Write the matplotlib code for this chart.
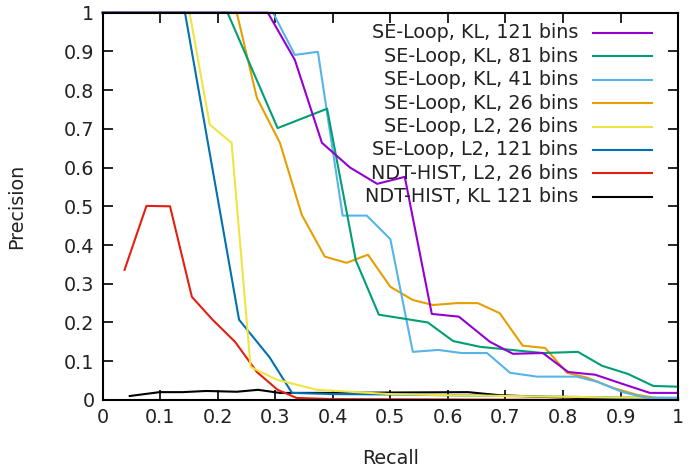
import matplotlib
matplotlib.use("Agg")
import matplotlib.pyplot as plt

# precision/recall curves
kl121_x = [0.0, 0.287, 0.334, 0.381, 0.43, 0.477, 0.525, 0.572, 0.619, 0.673, 0.713, 0.765, 0.809, 0.856, 0.908, 0.951, 1.0]
kl121_y = [1.0, 1.0, 0.878, 0.664, 0.6, 0.558, 0.576, 0.222, 0.215, 0.15, 0.119, 0.121, 0.072, 0.065, 0.039, 0.018, 0.018]

kl81_x = [0.0, 0.217, 0.304, 0.39, 0.44, 0.48, 0.565, 0.609, 0.656, 0.765, 0.826, 0.868, 0.913, 0.957, 1.0]
kl81_y = [1.0, 1.0, 0.702, 0.752, 0.36, 0.22, 0.2, 0.152, 0.137, 0.121, 0.124, 0.088, 0.067, 0.036, 0.034]

kl41_x = [0.0, 0.296, 0.334, 0.374, 0.417, 0.459, 0.5, 0.539, 0.583, 0.624, 0.668, 0.708, 0.755, 0.824, 0.859, 0.904, 0.946, 1.0]
kl41_y = [1.0, 1.0, 0.891, 0.899, 0.476, 0.476, 0.415, 0.124, 0.129, 0.121, 0.121, 0.07, 0.06, 0.06, 0.047, 0.02, 0.005, 0.005]

kl26_x = [0.0, 0.233, 0.268, 0.308, 0.346, 0.386, 0.424, 0.461, 0.5, 0.539, 0.574, 0.616, 0.652, 0.69, 0.73, 0.769, 0.807, 0.843, 0.887, 0.929, 0.969, 1.0]
kl26_y = [1.0, 1.0, 0.78, 0.664, 0.478, 0.37, 0.354, 0.375, 0.292, 0.258, 0.245, 0.25, 0.25, 0.224, 0.14, 0.134, 0.07, 0.057, 0.031, 0.013, 0.003, 0.0]

l2_26_x = [0.03, 0.151, 0.186, 0.224, 0.257, 0.303, 0.372, 0.44, 0.5, 0.6, 0.7, 0.8, 0.9, 1.0]
l2_26_y = [1.0, 1.0, 0.711, 0.664, 0.085, 0.052, 0.026, 0.02, 0.015, 0.012, 0.01, 0.008, 0.006, 0.005]

l2_121_x = [0.0, 0.143, 0.237, 0.29, 0.329, 0.4, 0.5, 0.6, 0.7, 0.8, 0.9, 1.0]
l2_121_y = [1.0, 1.0, 0.207, 0.11, 0.018, 0.015, 0.014, 0.012, 0.01, 0.008, 0.006, 0.005]

ndt_l2_x = [0.038, 0.076, 0.117, 0.155, 0.191, 0.23, 0.268, 0.304, 0.337, 0.4, 0.6, 0.8, 1.0]
ndt_l2_y = [0.336, 0.501, 0.5, 0.266, 0.207, 0.15, 0.072, 0.026, 0.005, 0.002, 0.001, 0.0, 0.0]

ndt_kl_x = [0.047, 0.099, 0.139, 0.18, 0.233, 0.27, 0.308, 0.4, 0.5, 0.635, 0.69, 0.8, 0.9, 1.0]
ndt_kl_y = [0.01, 0.02, 0.02, 0.023, 0.021, 0.026, 0.018, 0.018, 0.019, 0.02, 0.012, 0.006, 0.002, 0.0]

labels = ["SE-Loop, KL, 121 bins", "SE-Loop, KL, 81 bins", "SE-Loop, KL, 41 bins",
          "SE-Loop, KL, 26 bins", "SE-Loop, L2, 26 bins", "SE-Loop, L2, 121 bins",
          "NDT-HIST, L2, 26 bins", "NDT-HIST, KL 121 bins"]
colors = ["#9400d3", "#009e73", "#56b4e9", "#e69f00", "#f0e442", "#0072b2", "#e51e10", "#000000"]
series = [(kl121_x, kl121_y), (kl81_x, kl81_y), (kl41_x, kl41_y), (kl26_x, kl26_y),
          (l2_26_x, l2_26_y), (l2_121_x, l2_121_y), (ndt_l2_x, ndt_l2_y), (ndt_kl_x, ndt_kl_y)]

fs = 13.8
txt = "#222222"

fig = plt.figure(figsize=(6.94, 4.71), dpi=100)
ax = fig.add_axes([0.148, 0.151, 0.829, 0.822])

# draw in reverse so the first series is on top, like gnuplot
for (xs, ys), c in reversed(list(zip(series, colors))):
    ax.plot(xs, ys, color=c, lw=1.5, clip_on=False, zorder=3)

ax.set_xlim(0, 1)
ax.set_ylim(0, 1)
ticks = [i / 10 for i in range(11)]
ticklabels = ["0"] + ["%.1f" % t for t in ticks[1:-1]] + ["1"]
ax.set_xticks(ticks)
ax.set_xticklabels(ticklabels)
ax.set_yticks(ticks)
ax.set_yticklabels(ticklabels)
ax.tick_params(direction="in", top=True, right=True, length=7, width=1.2,
               labelsize=fs, pad=6, labelcolor=txt)
for s in ax.spines.values():
    s.set_linewidth(1.5)
    s.set_zorder(4)
ax.set_xlabel("Recall", fontsize=fs, labelpad=16, color=txt)
ax.set_ylabel("Precision", fontsize=fs, labelpad=27, color=txt)

# gnuplot-style key: text right aligned, sample line on the right
for i, (lab, c) in enumerate(zip(labels, colors)):
    yy = 0.948 - i * 0.0605
    ax.text(0.826, yy, lab, transform=ax.transAxes, ha="right", va="center", fontsize=fs, color=txt, zorder=5)
    ax.plot([0.852, 0.955], [yy, yy], transform=ax.transAxes, color=c, lw=1.5)

fig.savefig("out.png", dpi=100)
